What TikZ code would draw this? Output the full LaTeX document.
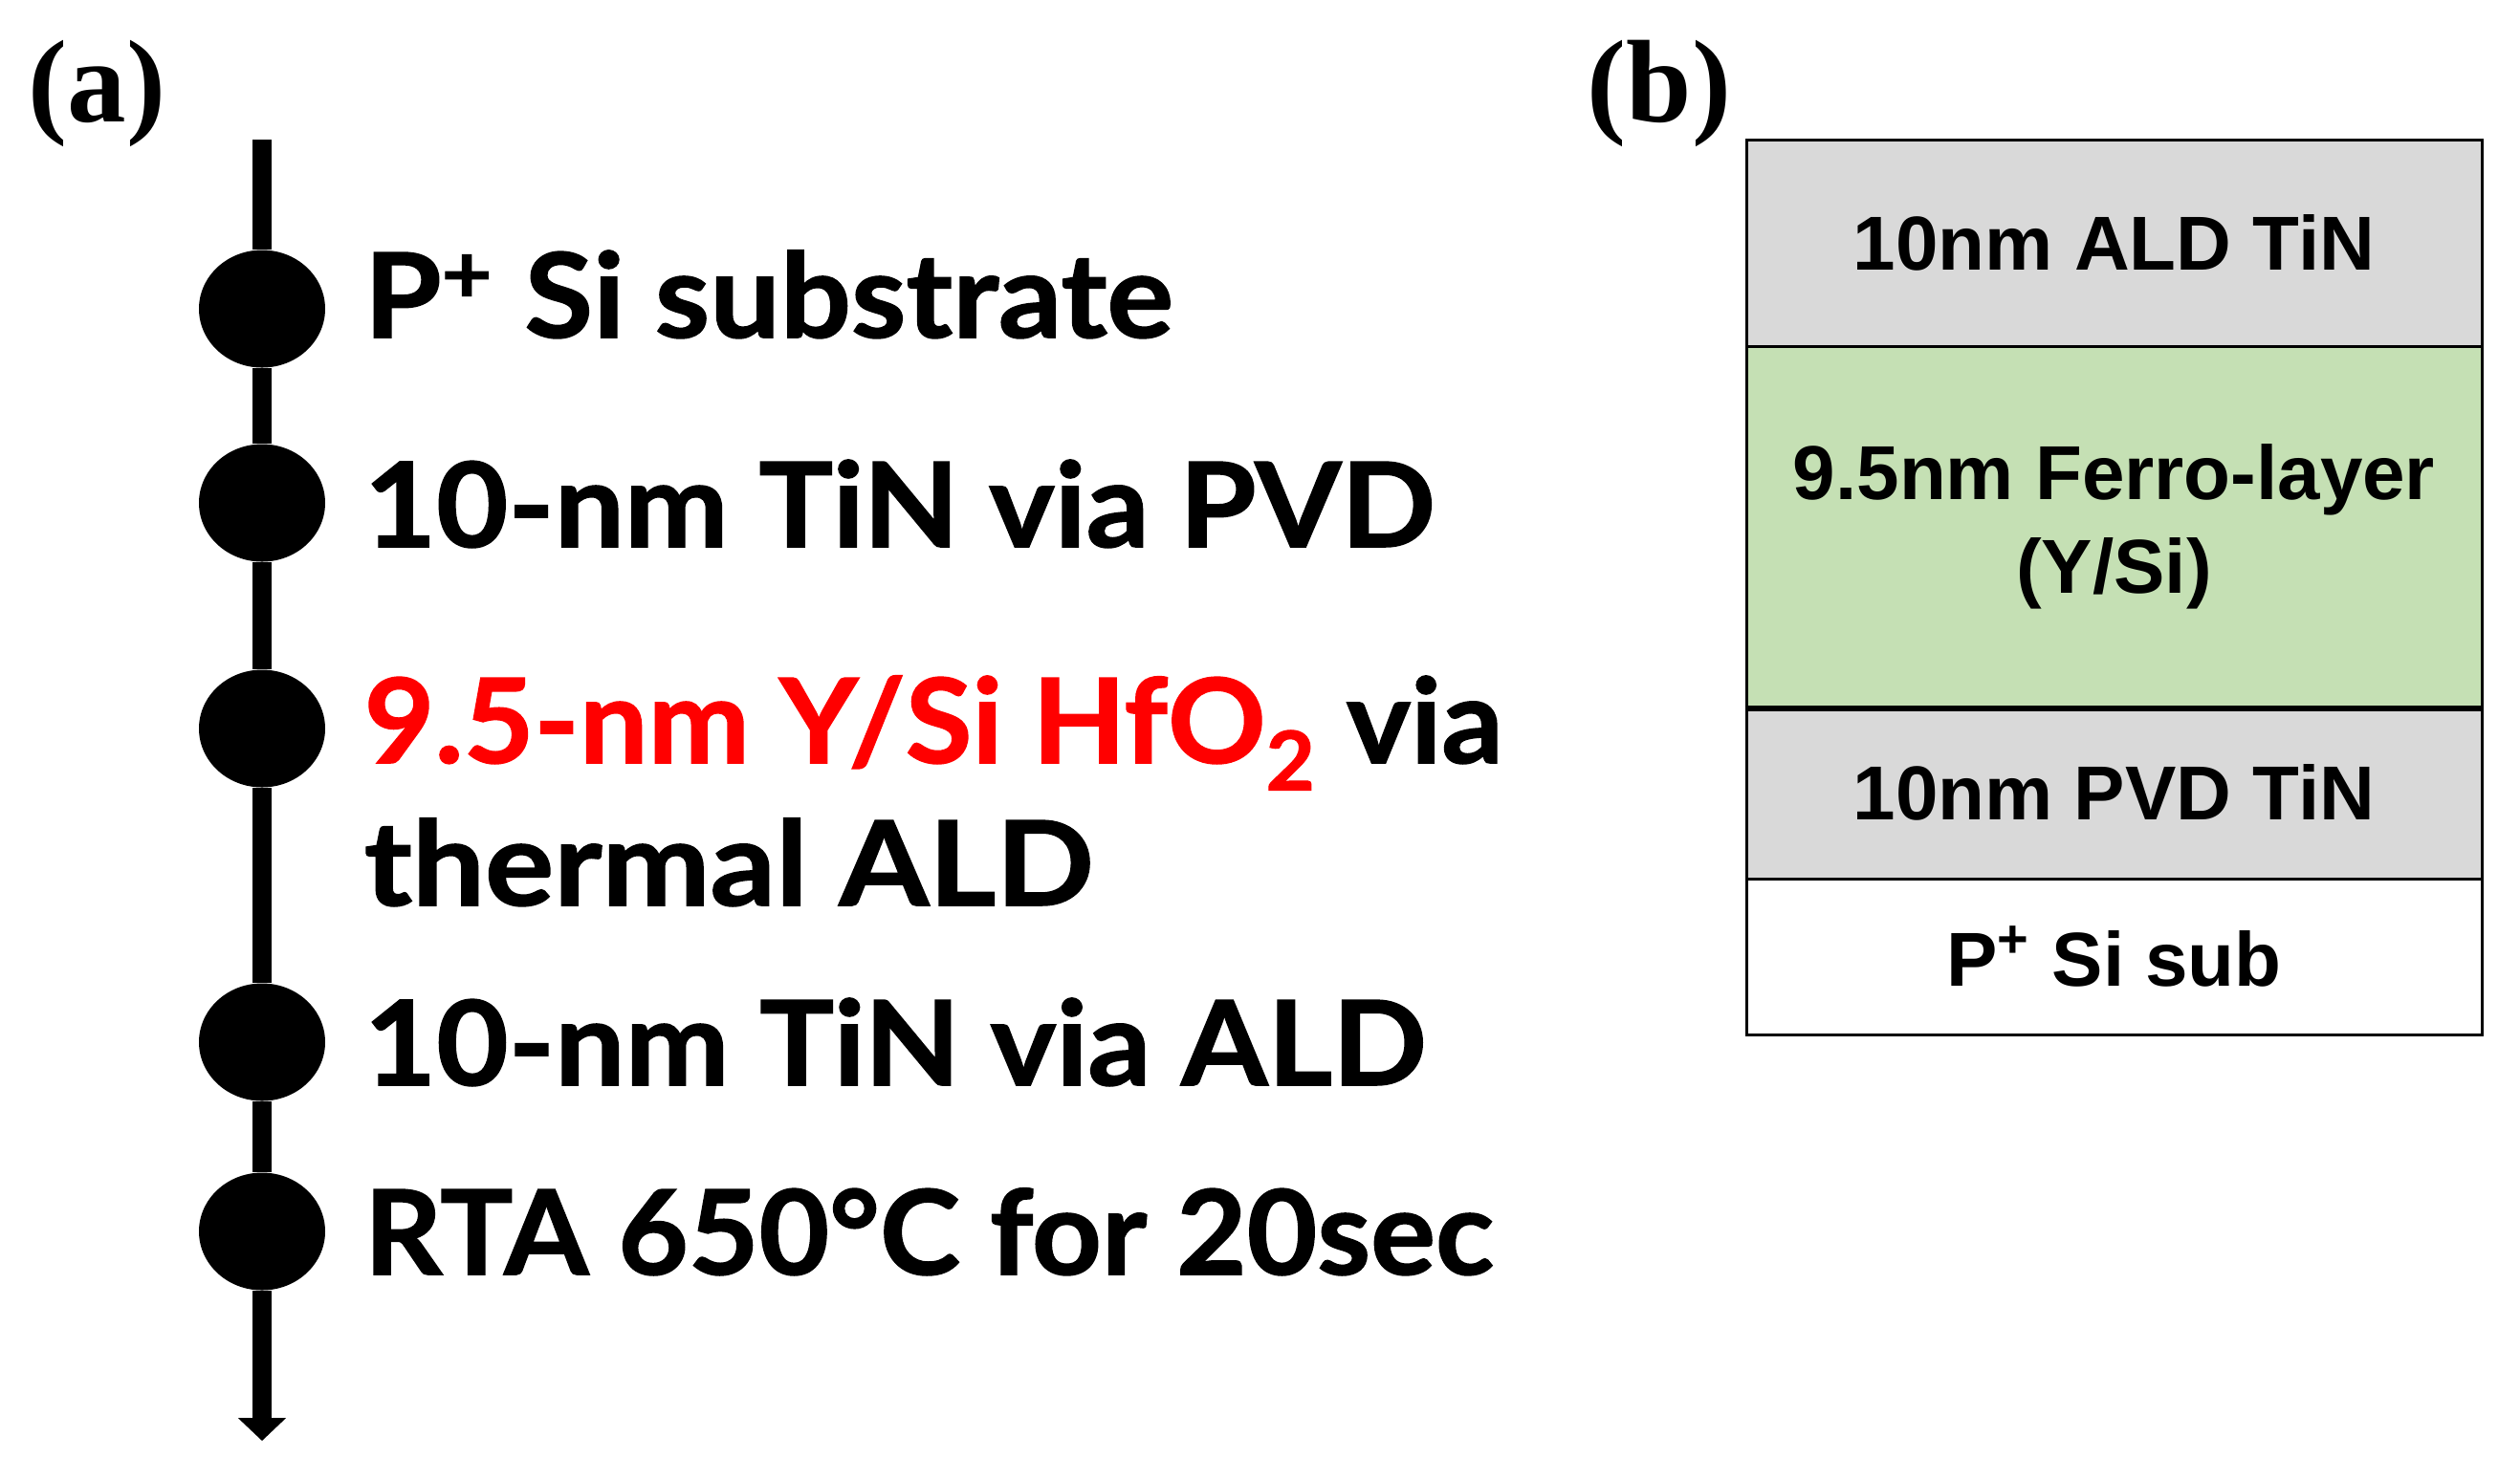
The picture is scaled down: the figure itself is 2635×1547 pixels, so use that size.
\documentclass[tikz,border=0pt]{standalone}
\usepackage{fontspec}
\usepackage{graphicx}
\setmainfont{Liberation Serif}
\newfontfamily\gillfont{Lato}[BoldFeatures={FakeBold=1.2}]
\newfontfamily\arialfont{Liberation Sans}
\usetikzlibrary{shapes.geometric,arrows.meta}
\definecolor{tingray}{HTML}{D9D9D9}
\definecolor{ferro}{HTML}{C5E0B4}
\definecolor{hfred}{HTML}{FF0000}
\newcommand\fitw[2]{\resizebox{#1}{\height}{#2}}
\begin{document}
\begin{tikzpicture}[x=0.25pt,y=-0.25pt,
  dot/.style={ellipse,fill=black,inner sep=0,minimum width=33pt,minimum height=30.75pt},
  stepline/.style={line width=5pt},
  steptext/.style={anchor=base west,inner sep=0,font=\gillfont\bfseries\fontsize{30.75}{36}\selectfont},
  panel/.style={anchor=base west,inner sep=0,font=\bfseries\fontsize{30.75}{36}\selectfont},
  layer/.style={draw=black,line width=0.75pt,minimum width=192.25pt,inner sep=0,align=center,font=\arialfont\bfseries\fontsize{20}{24.5}\selectfont},
]
\fill[white] (0,0) rectangle (2635,1547);
\useasboundingbox (0,0) rectangle (2635,1547);

% panel labels
\node[panel] (pa) at (29,127) {(a)};
\node[panel] (pb) at (1659,127) {(b)};

% process flow
\coordinate (top) at (274,146);
\coordinate (tip) at (274,1507);
\node[dot] (d1) at (274,323) {};
\node[dot] (d2) at (274,526) {};
\node[dot] (d3) at (274,762) {};
\node[dot] (d4) at (274,1090) {};
\node[dot] (d5) at (274,1288) {};
\draw[stepline] (top) -- (d1);
\draw[stepline] (d1) -- (d2);
\draw[stepline] (d2) -- (d3);
\draw[stepline] (d3) -- (d4);
\draw[stepline] (d4) -- (d5);
\draw[stepline,-{Triangle[width=12.25pt,length=6pt]}] (d5) -- (tip);

\node[steptext] (t1) at (380,353) {\fitw{211.5pt}{P\textsuperscript{+} Si substrate}};
\node[steptext] (t2) at (380,572) {\fitw{280pt}{10-nm TiN via PVD}};
\node[steptext] (t3) at (380,798) {\fitw{297.75pt}{\textcolor{hfred}{9.5-nm Y/Si HfO\textsubscript{2}} via}};
\node[steptext] (t4) at (380,947) {\fitw{190.75pt}{thermal ALD}};
\node[steptext] (t5) at (380,1135) {\fitw{277.75pt}{10-nm TiN via ALD}};
\node[steptext] (t6) at (380,1333) {\fitw{295.25pt}{RTA 650°C for 20sec}};

% layer stack
\node[layer,fill=tingray,minimum height=54pt] (l1) at (2210.5,254) {10nm ALD TiN};
\node[layer,fill=ferro,minimum height=94.25pt] (l2) at (2210.5,550.5) {9.5nm Ferro-layer\\(Y/Si)};
\node[layer,fill=tingray,minimum height=45pt] (l3) at (2210.5,829) {10nm PVD TiN};
\node[layer,fill=white,minimum height=40.75pt] (l4) at (2210.5,1000.5) {P\textsuperscript{+} Si sub};
\draw[line width=1.5pt] (l2.south west) -- (l2.south east);
\end{tikzpicture}
\end{document}
